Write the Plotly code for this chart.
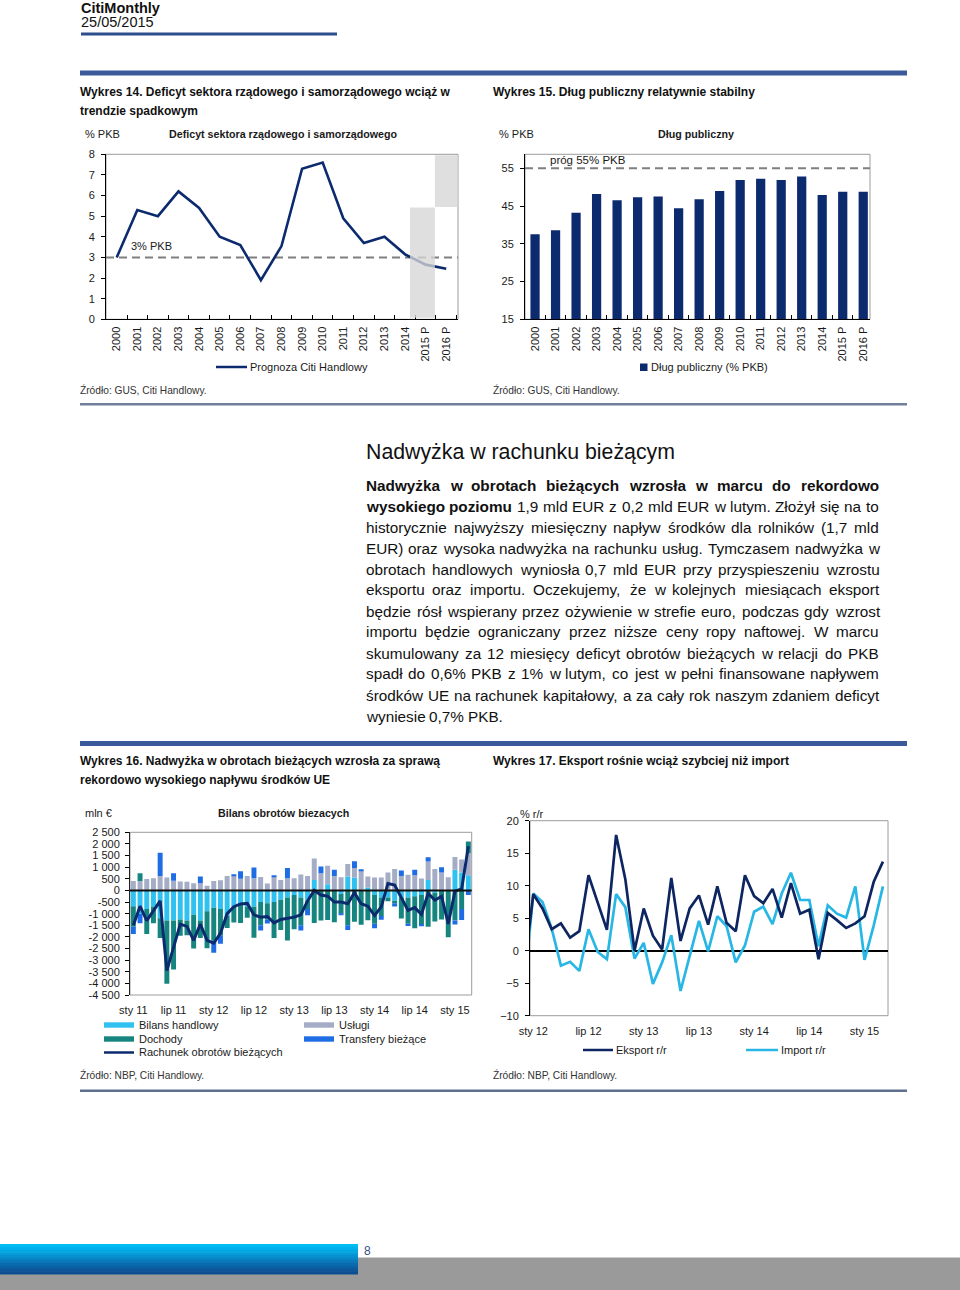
import plotly.graph_objects as go

W, H = 960, 1290
def px(x): return x / W
def py(y): return 1 - y / H

NARROW = "Liberation Sans, Arial, sans-serif"
SANS = "Liberation Sans, Arial, sans-serif"
INK = "#1a1a1a"
NAVY = "#0c2b6e"
TS = 11  # chart text size

# ---------------- data: Wykres 14 ----------------
years = ["2000", "2001", "2002", "2003", "2004", "2005", "2006", "2007", "2008",
         "2009", "2010", "2011", "2012", "2013", "2014", "2015 P", "2016 P"]
deficit = [3.0, 5.3, 5.0, 6.2, 5.4, 4.0, 3.6, 1.9, 3.55, 7.3, 7.6, 4.9, 3.7, 4.0, 3.15, 2.65, 2.45]
deficit_ref = 3
shade_cats = ["2015 P", "2016 P"]
shade_low = [0.07, 5.45]
shade_high = [5.42, 7.95]

# ---------------- data: Wykres 15 ----------------
debt = [37.5, 38.6, 43.2, 48.2, 46.5, 47.3, 47.5, 44.4, 46.8, 49.0, 51.9, 52.2, 51.9, 52.8, 47.9, 48.8, 48.8]
debt_ref = 55

# ---------------- data: Wykres 16 (mln EUR, sty 11 - mar 15) ----------------
month_names = ["sty", "lut", "mar", "kwi", "maj", "cze", "lip", "sie", "wrz", "paź", "lis", "gru"]
months16 = [f"{m} {y:02d}" for y in range(11, 16) for m in month_names][:51]
trade = [-680, -1000, -800, -700, -1200, -1300, -1300, -1250, -1300, -1050, -1300, -900, -750, -800,
         -1100, -700, -600, -700, -700, -500, -550, -500, -400, -300, -200, -300, -450, 450, 0, 260,
         0, -150, 600, 560, 0, 130, -200, -300, -300, -450, -300, -300, -250, -200, 450, -100, 0, 0,
         890, 770, 650]
services = [410, 400, 490, 520, 625, 550, 420, 380, 370, 305, 305, 200, 410, 440, 620, 620, 500, 620,
            520, 580, 300, 600, 450, 520, 520, 680, 620, 920, 740, 800, 620, 570, 535, 400, 860, 470,
            550, 550, 770, 920, 620, 670, 650, 510, 790, 920, 770, 570, 550, 560, 950]
income = [-880, 340, -1080, -710, -850, -2720, -2100, -700, -630, -1450, -750, -1590, -1420, -1150,
          -520, -680, -800, -480, -1340, -1000, -700, -1550, -1300, -1860, -1470, -1200, -350, -1400,
          -1300, -1270, -1370, -850, -1500, -1350, -1480, -1280, -1230, -800, -170, -100, -910, -1130,
          -1380, -1250, -1560, -1240, -1250, -2010, -1300, -800, 500]
transfers = [-320, -410, 0, 0, 990, 0, 320, 0, 0, 0, 290, 0, -510, -340, 0, 60, 320, 0, 470, -230,
             -170, 50, 0, 440, 0, -230, -270, 0, 290, 0, 270, -70, -200, 290, 50, 0, -200, -160, 0,
             -140, 240, -100, 240, -90, 190, 0, 230, 0, -170, -470, -200]
current_account = [-1500, -680, -1300, -900, -450, -3450, -2500, -1450, -1550, -2150, -1450, -2150,
                   -2270, -1850, -1000, -700, -580, -560, -1050, -1150, -1120, -1400, -1250, -1200,
                   -1150, -1050, -450, 0, -200, -250, -500, -500, -570, -100, -570, -680, -1080, -710,
                   300, 230, -350, -860, -740, -1030, -130, -420, -250, -1440, -30, 60, 1900]
ticks16 = list(range(2500, -5000, -500))
ticks16_text = [f"{v:,}".replace(",", " ") for v in ticks16]

# ---------------- data: Wykres 17 (% r/r, gru 11 - mar 15) ----------------
months17 = ["gru 11"] + [f"{m} {y}" for y in range(12, 16) for m in month_names][:39]
export_yy = [-3.0, 8.7, 6.5, 3.3, 4.2, 2.0, 3.0, 11.6, 7.4, 3.2, 17.8, 11.0, 0.0, 6.5, 2.3, 0.2,
             11.2, 1.5, 6.5, 8.5, 4.0, 9.9, 4.3, 3.0, 11.6, 8.4, 7.3, 9.5, 5.1, 10.4, 5.7, 6.3, -1.3,
             5.8, 4.7, 3.5, 4.2, 5.3, 10.6, 13.7]
import_yy = [-5.7, 8.8, 7.5, 3.4, -2.3, -1.7, -3.1, 3.3, -0.2, -1.3, 8.7, 6.7, -1.2, 1.2, -5.1,
             -1.8, 2.4, -6.2, -0.8, 4.6, -0.1, 5.3, 3.8, -1.8, 0.8, 6.0, 6.8, 4.1, 8.8, 12.0, 7.8,
             7.8, 0.7, 7.0, 5.7, 5.1, 9.9, -1.4, 3.9, 9.9]

# ---------------- text ----------------
para = [
    ("*Nadwyżka *w *obrotach *bieżących *wzrosła *w *marcu *do *rekordowo", True),
    ("*wysokiego *poziomu 1,9 mld EUR z 0,2 mld EUR w lutym. Złożył się na to", True),
    ("historycznie najwyższy miesięczny napływ środków dla rolników (1,7 mld", True),
    ("EUR) oraz wysoka nadwyżka na rachunku usług. Tymczasem nadwyżka w", True),
    ("obrotach handlowych wyniosła 0,7 mld EUR przy przyspieszeniu wzrostu", True),
    ("eksportu oraz importu. Oczekujemy, że w kolejnych miesiącach eksport", True),
    ("będzie rósł wspierany przez ożywienie w strefie euro, podczas gdy wzrost", True),
    ("importu będzie ograniczany przez niższe ceny ropy naftowej. W marcu", True),
    ("skumulowany za 12 miesięcy deficyt obrotów bieżących w relacji do PKB", True),
    ("spadł do 0,6% PKB z 1% w lutym, co jest w pełni finansowane napływem", True),
    ("środków UE na rachunek kapitałowy, a za cały rok naszym zdaniem deficyt", True),
    ("wyniesie 0,7% PKB.", False),
]

# Arial / Liberation Sans advance widths (1/1000 em)
REG = {}
for chs, w in [("abdeghnopqu0123456789ąęóń", 556), ("cksvxyzćśźż", 500), ("fjt", 278), ("il", 222),
               ("ł", 222), ("m", 833), ("r", 333), ("w", 722), (" ,.:", 278), ("()-", 333), ("%", 889),
               ("ABEKPSVXY", 667), ("CDHNRU", 722), ("FTZŻŹ", 611), ("GOQ", 778), ("I", 278),
               ("J", 500), ("LŁ", 556), ("M", 833), ("W", 944), ("Ś", 667)]:
    for c in chs:
        REG[c] = w
BOLD = {}
for chs, w in [("aceąęćsśkvxy0123456789", 556), ("bdghnopquóń", 611), ("fjt", 333),
               ("ilł", 278), ("m", 889), ("r", 389), ("w", 778), ("zżź", 500), (" ,.:", 278),
               ("()", 333), ("%", 889), ("N", 722), ("W", 944)]:
    for c in chs:
        BOLD[c] = w

def tw(s, bold, size):
    t = BOLD if bold else REG
    return sum(t.get(c, 556) for c in s) * size / 1000

ann = []
shapes = []

def T(x, y, text, size=TS, family=NARROW, color=INK, xanchor="left", bold=False):
    if bold:
        text = f"<b>{text}</b>"
    ann.append(dict(x=px(x), y=py(y), xref="paper", yref="paper", text=text, showarrow=False,
                    xanchor=xanchor, yanchor="middle", borderpad=0, borderwidth=0,
                    font=dict(family=family, size=size, color=color)))

def R(x0, y0, x1, y1, color, layer="above"):
    shapes.append(dict(type="rect", xref="paper", yref="paper", x0=px(x0), x1=px(x1), y0=py(y1),
                       y1=py(y0), fillcolor=color, line=dict(width=0), layer=layer))

def L(x0, y0, x1, y1, color, width, dash=None):
    ln = dict(color=color, width=width)
    if dash:
        ln["dash"] = dash
    shapes.append(dict(type="line", xref="paper", yref="paper", x0=px(x0), x1=px(x1), y0=py(y0),
                       y1=py(y1), line=ln))

# ---------------- page decoration ----------------
T(81, 8, "CitiMonthly", 14.5, SANS, "#111", bold=True)
T(81, 22, "25/05/2015", 14.5, SANS, "#111")
R(81, 32.5, 337, 35.5, "#2d4d8b")
R(80, 70.5, 907, 75.5, "#3b5a9a")
R(80, 403, 907, 405.5, "#6f7f9c")
R(80, 741, 907, 746, "#3b5a9a")
R(80, 1089.5, 907, 1092, "#5f6f8e")

WT = 12
T(80, 92, "Wykres 14. Deficyt sektora rządowego i samorządowego wciąż w", WT, NARROW, "#111", bold=True)
T(80, 111, "trendzie spadkowym", WT, NARROW, "#111", bold=True)
T(493, 92, "Wykres 15. Dług publiczny relatywnie stabilny", WT, NARROW, "#111", bold=True)
T(80, 761, "Wykres 16. Nadwyżka w obrotach bieżących wzrosła za sprawą", WT, NARROW, "#111", bold=True)
T(80, 780, "rekordowo wysokiego napływu środków UE", WT, NARROW, "#111", bold=True)
T(493, 761, "Wykres 17. Eksport rośnie wciąż szybciej niż import", WT, NARROW, "#111", bold=True)

T(80, 390, "Źródło: GUS, Citi Handlowy.", 10.2, SANS, "#333")
T(493, 390, "Źródło: GUS, Citi Handlowy.", 10.2, SANS, "#333")
T(80, 1075, "Źródło: NBP, Citi Handlowy.", 10.2, SANS, "#333")
T(493, 1075, "Źródło: NBP, Citi Handlowy.", 10.2, SANS, "#333")

# heading + justified paragraph
T(366, 452, "Nadwyżka w rachunku bieżącym", 21.3, SANS, "#111")
PS = 15.3
X0, X1 = 366, 879
for i, (line, justify) in enumerate(para):
    words = [(w.lstrip("*"), w.startswith("*")) for w in line.split(" ")]
    widths = [tw(w, b, PS) for w, b in words]
    if justify and len(words) > 1:
        gap = (X1 - X0 - sum(widths)) / (len(words) - 1)
    else:
        gap = tw(" ", False, PS)
    x = X0
    for (w, b), wd in zip(words, widths):
        T(x, 485 + 21 * i, w, PS, SANS, "#111", bold=b)
        x += wd + gap

# footer
grad = ["#00bdf4", "#00b3ec", "#02a8e3", "#049cd9", "#0690cf", "#0884c4", "#0977b9", "#0a6cae",
        "#0b61a3", "#0b5799", "#0c4e90"]
R(0, 1257.5, 960, 1290, "#9a9a9a", layer="below")
band_h = 30 / len(grad)
for k, c in enumerate(grad):
    R(0, 1244 + k * band_h, 358, 1244 + (k + 1) * band_h + 0.6, c)
T(364, 1251, "8", 12, SANS, "#34508a")

# ---------------- chart titles / units ----------------
T(85, 134, "% PKB", TS)
T(283, 134, "Deficyt sektora rządowego i samorządowego", 10.7, NARROW, xanchor="center", bold=True)
T(499, 134, "% PKB", TS)
T(696, 134, "Dług publiczny", 10.7, NARROW, xanchor="center", bold=True)
T(151, 246, "3% PKB", TS, xanchor="center")
T(588, 160, "próg 55% PKB", 11.5, xanchor="center")
T(85, 813, "mln €", TS)
T(283, 813, "Bilans obrotów biezacych", 10.7, NARROW, xanchor="center", bold=True)
T(520, 814, "% r/r", TS)

# ---------------- legends ----------------
L(216, 367, 247, 367, NAVY, 2.5)
T(250, 367, "Prognoza Citi Handlowy", TS)
R(640, 363.5, 647.5, 371, NAVY)
T(651, 367, "Dług publiczny (% PKB)", TS)

C_TRADE, C_SERV, C_INC, C_TRANS = "#2fc1ef", "#a4acc6", "#17857f", "#1f6de5"
for (lx, ly, col, lab) in [(104, 1025, C_TRADE, "Bilans handlowy"), (104, 1039, C_INC, "Dochody"),
                           (304, 1025, C_SERV, "Usługi"), (304, 1039, C_TRANS, "Transfery bieżące")]:
    R(lx, ly - 2.7, lx + 30, ly + 2.7, col)
    T(lx + 34.5, ly, lab, TS)
L(104, 1052.5, 134, 1052.5, NAVY, 2.5)
T(138.5, 1052, "Rachunek obrotów bieżących", TS)

C_EXP, C_IMP = "#0d2560", "#28b7e4"
L(583, 1050, 613, 1050, C_EXP, 2.5)
T(616, 1050, "Eksport r/r", TS)
L(746, 1050, 778, 1050, C_IMP, 2.5)
T(781, 1050, "Import r/r", TS)

# ---------------- traces ----------------
fig = go.Figure()
fig.add_trace(go.Scatter(x=years, y=deficit, mode="lines", line=dict(color=NAVY, width=2.6),
                         xaxis="x", yaxis="y", showlegend=False))
fig.add_trace(go.Bar(x=years, y=debt, marker=dict(color=NAVY, line=dict(width=0)), width=0.45,
                     xaxis="x2", yaxis="y2", showlegend=False))
for vals, col in [(trade, C_TRADE), (services, C_SERV), (income, C_INC), (transfers, C_TRANS)]:
    fig.add_trace(go.Bar(x=months16, y=vals, marker=dict(color=col, line=dict(width=0)), width=0.74,
                         xaxis="x3", yaxis="y3", showlegend=False))
fig.add_trace(go.Scatter(x=months16, y=current_account, mode="lines", line=dict(color=NAVY, width=3),
                         xaxis="x3", yaxis="y3", showlegend=False))
fig.add_trace(go.Scatter(x=months17, y=import_yy, mode="lines", line=dict(color=C_IMP, width=2.7),
                         xaxis="x4", yaxis="y4", showlegend=False))
fig.add_trace(go.Scatter(x=months17, y=export_yy, mode="lines", line=dict(color=C_EXP, width=2.7),
                         xaxis="x4", yaxis="y4", showlegend=False))

# chart-level shapes
GREY_BOX = "#9c9c9c"
for xr, yr in [("x", "y"), ("x2", "y2"), ("x3", "y3"), ("x4", "y4")]:
    shapes.append(dict(type="rect", xref=f"{xr} domain", yref=f"{yr} domain", x0=0, x1=1, y0=0, y1=1,
                       line=dict(color=GREY_BOX, width=1), layer="below"))
shapes.append(dict(type="line", xref="x domain", yref="y", x0=0, x1=1, y0=deficit_ref, y1=deficit_ref,
                   line=dict(color="#7f7f7f", width=2, dash="8px,5px"), layer="below"))
shapes.append(dict(type="line", xref="x2 domain", yref="y2", x0=0, x1=1, y0=debt_ref, y1=debt_ref,
                   line=dict(color="#7f7f7f", width=2, dash="8px,5px"), layer="below"))
shade_left = [0.76, 0.55]
shade_right = [0.45, 0.57]
for cat, lo, hi, dl, dr in zip(shade_cats, shade_low, shade_high, shade_left, shade_right):
    i = years.index(cat)
    shapes.append(dict(type="rect", xref="x", yref="y", x0=i - dl, x1=i + dr, y0=lo, y1=hi,
                       fillcolor="#d6d6d6", opacity=0.78, line=dict(width=0), layer="above"))
shapes.append(dict(type="line", xref="x3 domain", yref="y3", x0=0, x1=1, y0=0, y1=0,
                   line=dict(color="#111", width=2), layer="above"))

def ax(**kw):
    d = dict(showgrid=False, zeroline=False, fixedrange=True, automargin=False,
             tickfont=dict(family=NARROW, size=TS, color=INK))
    d.update(kw)
    return d

layout = dict(
    template="none",
    width=W, height=H, autosize=False, margin=dict(l=0, r=0, t=0, b=0, pad=0),
    paper_bgcolor="white", plot_bgcolor="white", barmode="relative", bargap=0.28,
    showlegend=False, annotations=ann, shapes=shapes,
    xaxis=ax(domain=[px(106), px(458)], anchor="y", type="category", range=[-0.52, 16.57],
             tickangle=-90, showline=True, linecolor="black", linewidth=1, ticks="inside",
             ticklen=4, tickson="boundaries", tickcolor="black", ticklabelstandoff=2),
    yaxis=ax(domain=[py(319.3), py(154.3)], anchor="x", range=[0, 8], dtick=1, showline=True,
             linecolor="black", linewidth=1, ticks="outside", ticklen=4, tickcolor="black",
             ticklabelstandoff=4),
    xaxis2=ax(domain=[px(525), px(870)], anchor="y2", type="category", range=[-0.49, 16.33],
              tickangle=-90, showline=True, linecolor="black", linewidth=1, ticks="inside",
              ticklen=4, tickson="boundaries", tickcolor="black", ticklabelstandoff=2),
    yaxis2=ax(domain=[py(319.3), py(154.3)], anchor="x2", range=[15, 58.7],
              tickvals=[15, 25, 35, 45, 55], showline=True, linecolor="black", linewidth=1,
              ticks="outside", ticklen=4, tickcolor="black", ticklabelstandoff=4),
    xaxis3=ax(domain=[px(130), px(471.7)], anchor="y3", type="category", range=[-0.5, 50.5],
              tickvals=months16[::6], ticktext=months16[::6], ticks="", showline=False,
              ticklabelstandoff=7),
    yaxis3=ax(domain=[py(995), py(832.3)], anchor="x3", range=[-4500, 2500], tickvals=ticks16,
              ticktext=ticks16_text, showline=True, linecolor="#222", linewidth=1,
              ticks="outside", ticklen=4, tickcolor="black", ticklabelstandoff=3),
    xaxis4=ax(domain=[px(530), px(888)], anchor="y4", type="category", range=[0.64, 39.55],
              tickvals=months17[1::6], ticktext=months17[1::6], ticks="", showline=False,
              ticklabelstandoff=7),
    yaxis4=ax(domain=[py(1015.7), py(820.7)], anchor="x4", range=[-10, 20], dtick=5,
              showline=True, linecolor="black", linewidth=1, ticks="outside", ticklen=4,
              tickcolor="black", zeroline=True, zerolinecolor="black", zerolinewidth=1.5,
              ticklabelstandoff=4),
)
fig.update_layout(**layout)
fig.write_html(
    "out.html",
    config=dict(displayModeBar=False, responsive=False),
    post_script=("document.documentElement.style.margin='0';document.body.style.margin='0';"
                 "document.body.style.padding='0';document.documentElement.style.overflow='hidden';"
                 "document.body.style.overflow='hidden';"),
)
